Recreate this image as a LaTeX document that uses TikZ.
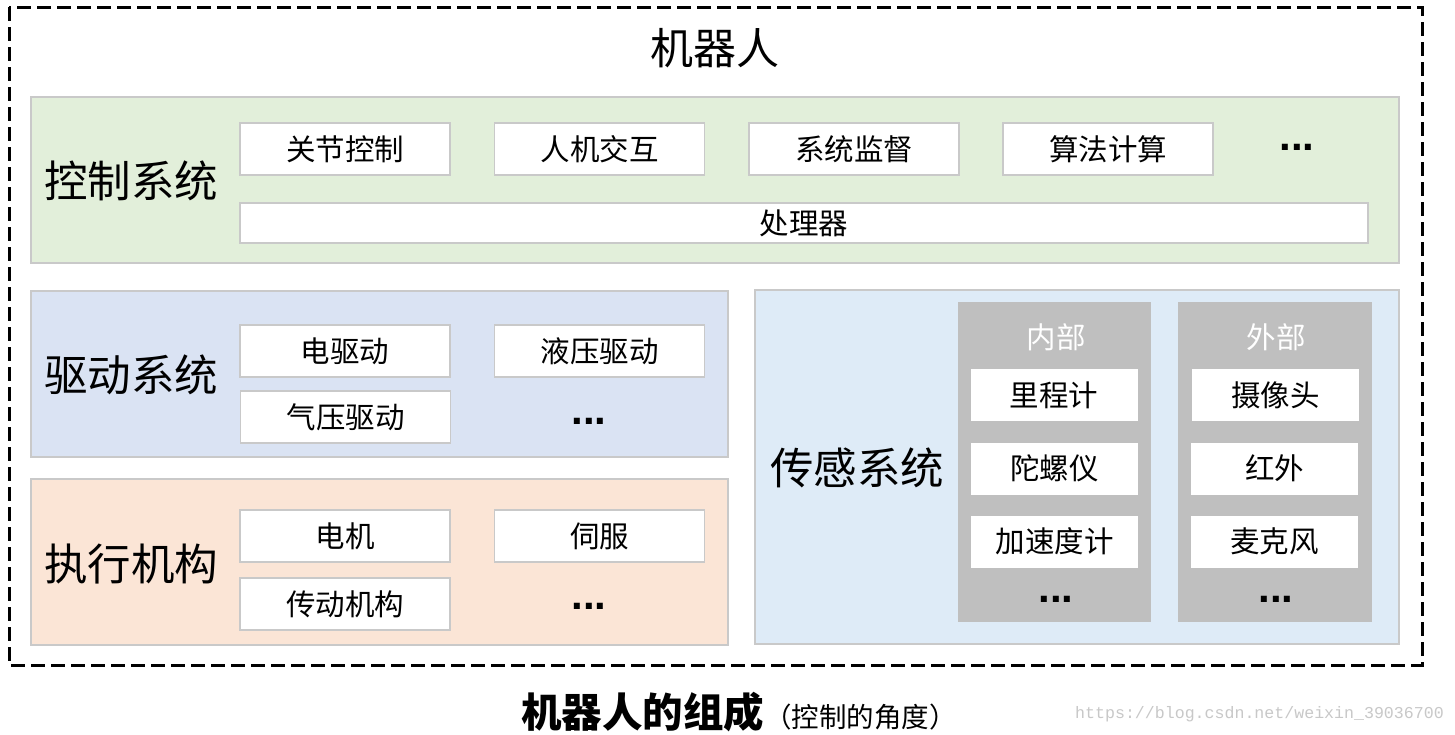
\documentclass[tikz,border=0pt]{standalone}
\usepackage{fontspec}
\setmainfont{Noto Sans CJK SC}
\setmonofont{Liberation Mono}
\newfontfamily\dotsfont{Liberation Sans}
\definecolor{ctrlgreen}{HTML}{E2EFDA}
\definecolor{drvblue}{HTML}{DAE3F3}
\definecolor{actorange}{HTML}{FBE5D6}
\definecolor{sensblue}{HTML}{DEEBF7}
\definecolor{boxline}{HTML}{C9C9C9}
\definecolor{colgray}{HTML}{BFBFBF}
\definecolor{markgray}{HTML}{C8C8C8}
\newcommand{\fsz}[1]{\fontsize{#1}{#1}\selectfont}
\tikzset{
  panel/.style={draw=boxline,line width=1.2pt,inner sep=0pt},
  item/.style={draw=boxline,fill=white,line width=1.2pt,inner sep=0pt,
    minimum width=210pt,minimum height=52pt,font=\fsz{29.5}},
  sensitem/.style={item,draw=none,minimum width=167pt},
  column/.style={fill=colgray,inner sep=0pt,minimum width=193pt,minimum height=320pt},
  syslabel/.style={font=\fsz{43.5}},
  more/.style={font=\dotsfont\fsz{42}\bfseries}
}
\begin{document}
\begin{tikzpicture}[x=1pt,y=-1pt]
\useasboundingbox[fill=white] (0,0) rectangle (1455,734);
\draw[line width=3pt,dash pattern=on 14pt off 6pt] (9,7) rectangle (1422,665);
\node[font=\fsz{43}] (robot) at (715,48) {机器人};

\node[panel,fill=ctrlgreen,minimum width=1368pt,minimum height=166pt] (ctrl) at (715,180) {};
\node[syslabel] (ctrllabel) at (131,181) {控制系统};
\node[item] (joint) at (345,149) {关节控制};
\node[item] (hmi) at (599.5,149) {人机交互};
\node[item] (monitor) at (854,149) {系统监督};
\node[item] (algo) at (1108,149) {算法计算};
\node[more] (ctrlmore) at (1297,147) {...};
\node[item,minimum width=1128pt,minimum height=40pt] (cpu) at (804,223) {处理器};

\node[panel,fill=drvblue,minimum width=697pt,minimum height=166pt] (drive) at (379.5,374) {};
\node[syslabel] (drivelabel) at (131,375) {驱动系统};
\node[item] (elec) at (345,351) {电驱动};
\node[item] (hydr) at (599.5,351) {液压驱动};
\node[item] (pneu) at (345.5,417) {气压驱动};
\node[more] (drivemore) at (589,421) {...};

\node[panel,fill=actorange,minimum width=697pt,minimum height=166pt] (act) at (379.5,562) {};
\node[syslabel] (actlabel) at (131,564) {执行机构};
\node[item] (motor) at (345,536) {电机};
\node[item] (servo) at (599.5,536) {伺服};
\node[item] (trans) at (345,604) {传动机构};
\node[more] (actmore) at (589,606) {...};

\node[panel,fill=sensblue,minimum width=644pt,minimum height=354pt] (sens) at (1077,467) {};
\node[syslabel] (senslabel) at (857,468) {传感系统};
\node[column] (inner) at (1054.5,462) {};
\node[column,minimum width=194pt] (outer) at (1275,462) {};
\node[font=\fsz{29.5},text=white] (innerhead) at (1056,337) {内部};
\node[font=\fsz{29.5},text=white] (outerhead) at (1276,337) {外部};
\node[sensitem] (odo) at (1054,395) {里程计};
\node[sensitem] (gyro) at (1054.5,468.5) {陀螺仪};
\node[sensitem] (accel) at (1054.5,541.5) {加速度计};
\node[more] (innermore) at (1056,599) {...};
\node[sensitem] (camera) at (1275.5,395) {摄像头};
\node[sensitem] (ir) at (1274.5,468.5) {红外};
\node[sensitem] (mic) at (1274.5,541.5) {麦克风};
\node[more] (outermore) at (1276,599) {...};

\node[anchor=west,inner sep=0pt] (caption) at (521,712) {{\fsz{40.5}\bfseries 机器人的组成}{\fsz{27.5}（控制的角度）}};
\node[anchor=west,inner sep=0pt,text=markgray,font=\fsz{16.6}\ttfamily] (mark) at (1075,714) {https://blog.csdn.net/weixin\_39036700};
\end{tikzpicture}
\end{document}
